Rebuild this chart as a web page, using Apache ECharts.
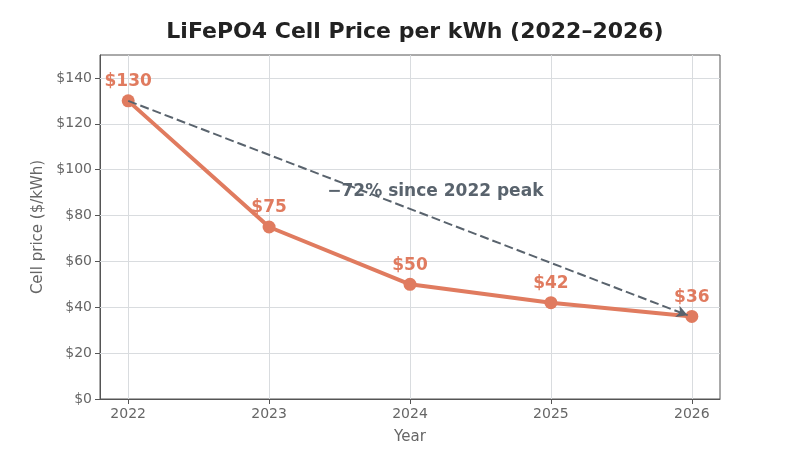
<!doctype html>
<html>
<head>
<meta charset="utf-8">
<title>LiFePO4 Cell Price</title>
<script src="https://cdn.jsdelivr.net/npm/echarts@6/dist/echarts.min.js"></script>
<style>
  html, body { margin: 0; padding: 0; background: #fff; }
  #chart { width: 800px; height: 450px; }
</style>
</head>
<body>
<div id="chart"></div>
<script>
var years = [2022, 2023, 2024, 2025, 2026];
var prices = [130, 75, 50, 42, 36];
var yTicks = [0, 20, 40, 60, 80, 100, 120, 140];
var trendNote = '\u221272% since 2022 peak';
var notePos = [2024.18, 90.5];

var lineColor = '#e07b5f';
var noteColor = '#59636d';
var font = 'DejaVu Sans';

var chart = echarts.init(document.getElementById('chart'));

chart.setOption({
    animation: false,
    title: {
        text: 'LiFePO4 Cell Price per kWh (2022\u20132026)',
        left: 410,
        textAlign: 'center',
        top: 16,
        textStyle: { fontFamily: font, fontSize: 22, fontWeight: 'bold', color: '#222' }
    },
    grid: {
        left: 100, right: 80, top: 55, bottom: 48,
        show: true, borderColor: '#555', borderWidth: 1, backgroundColor: 'transparent'
    },
    xAxis: {
        type: 'value',
        min: 2021.8,
        max: 2026.2,
        name: 'Year',
        nameLocation: 'middle',
        nameGap: 31,
        nameTextStyle: { fontFamily: font, fontSize: 15, color: '#666' },
        axisLine: { show: true, lineStyle: { color: '#555' } },
        axisTick: { show: true, customValues: years, length: 5, lineStyle: { color: '#555' } },
        axisLabel: {
            customValues: years, fontFamily: font, fontSize: 14, color: '#666', margin: 8,
            formatter: function (v) { return String(v); }
        },
        splitLine: { show: false }
    },
    yAxis: {
        type: 'value',
        min: 0,
        max: 150,
        name: 'Cell price ($/kWh)',
        nameLocation: 'middle',
        nameGap: 54,
        nameTextStyle: { fontFamily: font, fontSize: 15, color: '#666' },
        axisLine: { show: true, lineStyle: { color: '#555' } },
        axisTick: { show: true, customValues: yTicks, length: 5, lineStyle: { color: '#555' } },
        axisLabel: {
            customValues: yTicks, fontFamily: font, fontSize: 14, color: '#666', margin: 8,
            formatter: function (v) { return '$' + v; }
        },
        splitLine: { show: false }
    },
    series: [
        {
            type: 'line',
            data: years.map(function (y, i) { return [y, prices[i]]; }),
            z: 3,
            lineStyle: { color: lineColor, width: 4 },
            itemStyle: { color: lineColor },
            symbol: 'circle',
            symbolSize: 13,
            label: {
                show: true, position: 'top', distance: 4,
                fontFamily: font, fontSize: 17, fontWeight: 'bold', color: lineColor,
                formatter: function (p) { return '$' + p.value[1]; }
            },
            markLine: {
                silent: true,
                symbol: 'none',
                label: { show: false },
                z: 1,
                lineStyle: { color: '#d9dcdf', width: 1, type: 'solid' },
                data: years.map(function (y) { return { xAxis: y }; })
                    .concat(yTicks.slice(1).map(function (t) { return { yAxis: t }; }))
            }
        },
        {
            type: 'scatter',
            data: [notePos],
            symbolSize: 0,
            z: 5,
            itemStyle: { opacity: 1 },
            label: {
                show: true, position: 'inside',
                fontFamily: font, fontSize: 17, fontWeight: 'bold', color: noteColor,
                formatter: trendNote
            },
            markLine: {
                silent: true,
                symbol: ['none', 'arrow'],
                symbolSize: [9, 11],
                label: { show: false },
                z: 4,
                lineStyle: { color: noteColor, width: 2, type: [9, 4], opacity: 1 },
                data: [[
                    { coord: [years[0], prices[0]] },
                    { coord: [years[4] - 0.03, prices[4] + 0.5] }
                ]]
            }
        }
    ]
});
</script>
</body>
</html>
